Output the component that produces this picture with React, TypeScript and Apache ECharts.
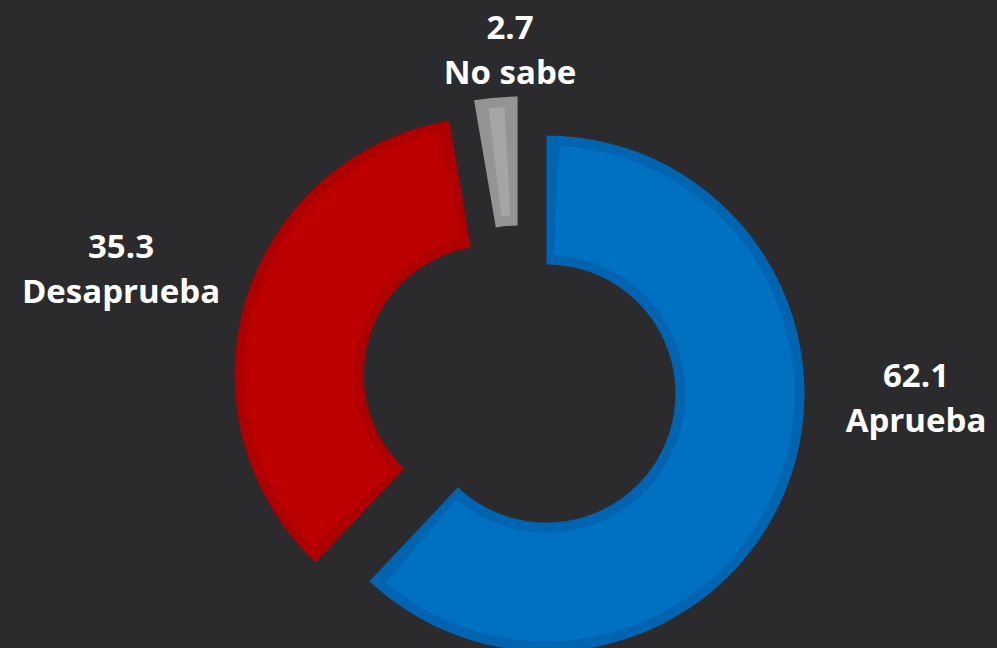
import React, { useEffect, useRef } from "react";
import * as echarts from "echarts";

const categories = ["Aprueba", "Desaprueba", "No sabe"];
const values = [62.1, 35.3, 2.7];
const fillColors = ["#0070C0", "#BC0000", "#A5A5A5"];
const edgeColors = ["#0064B0", "#AE0000", "#949494"];
const labelPositions = [
  [916, 397],
  [121, 268],
  [510, 49],
];

export default function App() {
  const ref = useRef<HTMLDivElement>(null);
  useEffect(() => {
    if (!ref.current) return;
    const chart = echarts.init(ref.current, null, { renderer: "svg" });
    const center = [520, 383];
    const base = {
      type: "pie",
      center,
      startAngle: 90,
      clockwise: true,
      selectedMode: "multiple",
      selectedOffset: 28.5,
      silent: true,
      emphasis: { disabled: true },
      labelLine: { show: false },
      label: { show: false },
    };
    chart.setOption({
      animation: false,
      backgroundColor: "#2b2b2d",
      series: [
        {
          ...base,
          radius: [129, 258],
          data: categories.map((name, i) => ({
            name,
            value: values[i],
            selected: true,
            itemStyle: { color: edgeColors[i] },
          })),
        },
        {
          ...base,
          radius: [139, 248],
          padAngle: 6,
          data: categories.map((name, i) => ({
            name,
            value: values[i],
            selected: true,
            itemStyle: { color: fillColors[i] },
          })),
        },
        {
          type: "pie",
          center,
          radius: [129, 258],
          startAngle: 90,
          silent: true,
          selectedMode: false,
          emphasis: { disabled: true },
          labelLine: { show: false },
          itemStyle: { color: "rgba(0,0,0,0)" },
          label: {
            show: true,
            position: "outside",
            formatter: "{c}\n{b}",
            color: "#ffffff",
            fontFamily: "Open Sans",
            fontWeight: "bold",
            fontSize: 33,
            lineHeight: 45,
            align: "center",
          },
          labelLayout: (p: any) => ({
            x: labelPositions[p.dataIndex][0],
            y: labelPositions[p.dataIndex][1],
            align: "center",
            verticalAlign: "middle",
          }),
          data: categories.map((name, i) => ({ name, value: values[i] })),
        },
      ],
    });
    return () => chart.dispose();
  }, []);
  return (
    <div
      ref={ref}
      style={{ position: "absolute", left: 0, top: 0, width: 997, height: 648 }}
    />
  );
}
